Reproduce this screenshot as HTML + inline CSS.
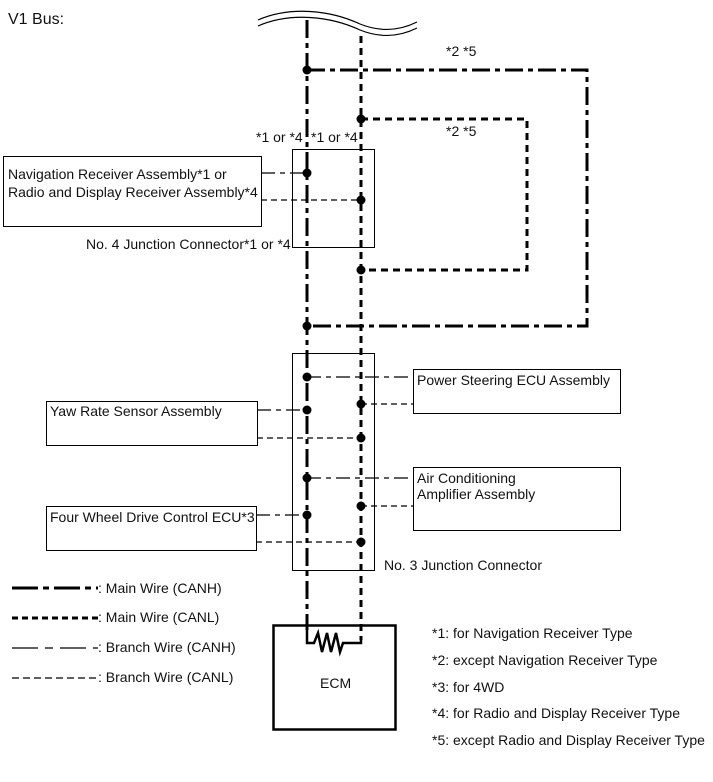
<!DOCTYPE html>
<html><head><style>
body{margin:0;background:#fff}
svg{display:block;font-family:"Liberation Sans",Arial,sans-serif}
text{font-size:14px;fill:#111}
</style></head><body>
<svg width="713" height="782" viewBox="0 0 713 782">
<text x="8" y="24" style="font-size:16px">V1 Bus:</text>
<path d="M258,20 C290,6 330,10 360,24 C385,34 405,28 417,22" fill="none" stroke="#000" stroke-width="1.2"/>
<path d="M258,26 C290,12 330,16 360,30 C385,40 405,34 417,28" fill="none" stroke="#000" stroke-width="1.2"/>
<g fill="none" stroke="#000">
<g stroke-width="3" stroke-dasharray="18,5,5,5">
<line x1="307" y1="20" x2="307" y2="630"/>
<polyline points="307,70 587,70 587,326 307,326"/>
</g>
<g stroke-width="3" stroke-dasharray="7,5">
<line x1="361" y1="36" x2="361" y2="640"/>
<polyline points="361,119 527,119 527,270 361,270"/>
</g>
<g stroke-width="1.3" stroke-dasharray="14,5,5,5">
<line x1="261" y1="173" x2="307" y2="173"/>
<line x1="307" y1="377" x2="413" y2="377"/>
<line x1="257" y1="410" x2="307" y2="410"/>
<line x1="307" y1="478" x2="413" y2="478"/>
<line x1="256" y1="515" x2="307" y2="515"/>
</g>
<g stroke-width="1.3" stroke-dasharray="6,4">
<line x1="261" y1="200" x2="361" y2="200"/>
<line x1="361" y1="404" x2="413" y2="404"/>
<line x1="257" y1="438" x2="361" y2="438"/>
<line x1="361" y1="506" x2="413" y2="506"/>
<line x1="256" y1="542" x2="361" y2="542"/>
</g>
<g stroke-width="1">
<rect x="292.5" y="149.5" width="82" height="98"/>
<rect x="292.5" y="353.5" width="82" height="217"/>
<rect x="3.5" y="156.5" width="258" height="70"/>
<rect x="46.5" y="401.5" width="211" height="44"/>
<rect x="46.5" y="506.5" width="210" height="44"/>
<rect x="413.5" y="369.5" width="207" height="44"/>
<rect x="413.5" y="467.5" width="207" height="63"/>
</g>
<rect x="273.5" y="625.5" width="122" height="104" stroke-width="2.5"/>
<polyline points="307,630 307,643 314,643 318,633 322,652 327,633 331,652 336,633 340,652 343,643 361,643 361,636" stroke-width="2.5"/>
<line x1="12" y1="588" x2="98" y2="588" stroke-width="3" stroke-dasharray="26,5,6,5"/>
<line x1="12" y1="618" x2="98" y2="618" stroke-width="3" stroke-dasharray="6,4"/>
<line x1="12" y1="648" x2="98" y2="648" stroke-width="1.2" stroke-dasharray="26,7,8,7"/>
<line x1="12" y1="678" x2="98" y2="678" stroke-width="1.2" stroke-dasharray="7,4"/>
</g>
<g fill="#000">
<circle cx="307" cy="70" r="4.5"/><circle cx="361" cy="119" r="4.5"/>
<circle cx="307" cy="173" r="4.5"/><circle cx="361" cy="200" r="4.5"/>
<circle cx="361" cy="270" r="4.5"/><circle cx="307" cy="326" r="4.5"/>
<circle cx="307" cy="377" r="4.5"/><circle cx="361" cy="404" r="4.5"/>
<circle cx="307" cy="410" r="4.5"/><circle cx="361" cy="438" r="4.5"/>
<circle cx="307" cy="478" r="4.5"/><circle cx="361" cy="506" r="4.5"/>
<circle cx="307" cy="515" r="4.5"/><circle cx="361" cy="542" r="4.5"/>
</g>
<text x="446" y="56">*2 *5</text>
<text x="446" y="136">*2 *5</text>
<text x="256" y="142">*1 or *4</text>
<text x="311" y="142">*1 or *4</text>
<text x="8" y="179">Navigation Receiver Assembly*1 or</text>
<text x="8" y="197">Radio and Display Receiver Assembly*4</text>
<text x="86" y="249">No. 4 Junction Connector*1 or *4</text>
<text x="50" y="416">Yaw Rate Sensor Assembly</text>
<text x="50" y="522">Four Wheel Drive Control ECU*3</text>
<text x="417" y="385">Power Steering ECU Assembly</text>
<text x="417" y="483">Air Conditioning</text>
<text x="417" y="499">Amplifier Assembly</text>
<text x="384" y="570">No. 3 Junction Connector</text>
<text x="320" y="688">ECM</text>
<text x="98" y="593">: Main Wire (CANH)</text>
<text x="98" y="622">: Main Wire (CANL)</text>
<text x="98" y="652">: Branch Wire (CANH)</text>
<text x="98" y="682">: Branch Wire (CANL)</text>
<text x="432" y="638">*1: for Navigation Receiver Type</text>
<text x="432" y="665">*2: except Navigation Receiver Type</text>
<text x="432" y="692">*3: for 4WD</text>
<text x="432" y="718">*4: for Radio and Display Receiver Type</text>
<text x="432" y="745">*5: except Radio and Display Receiver Type</text>
</svg>
</body></html>
